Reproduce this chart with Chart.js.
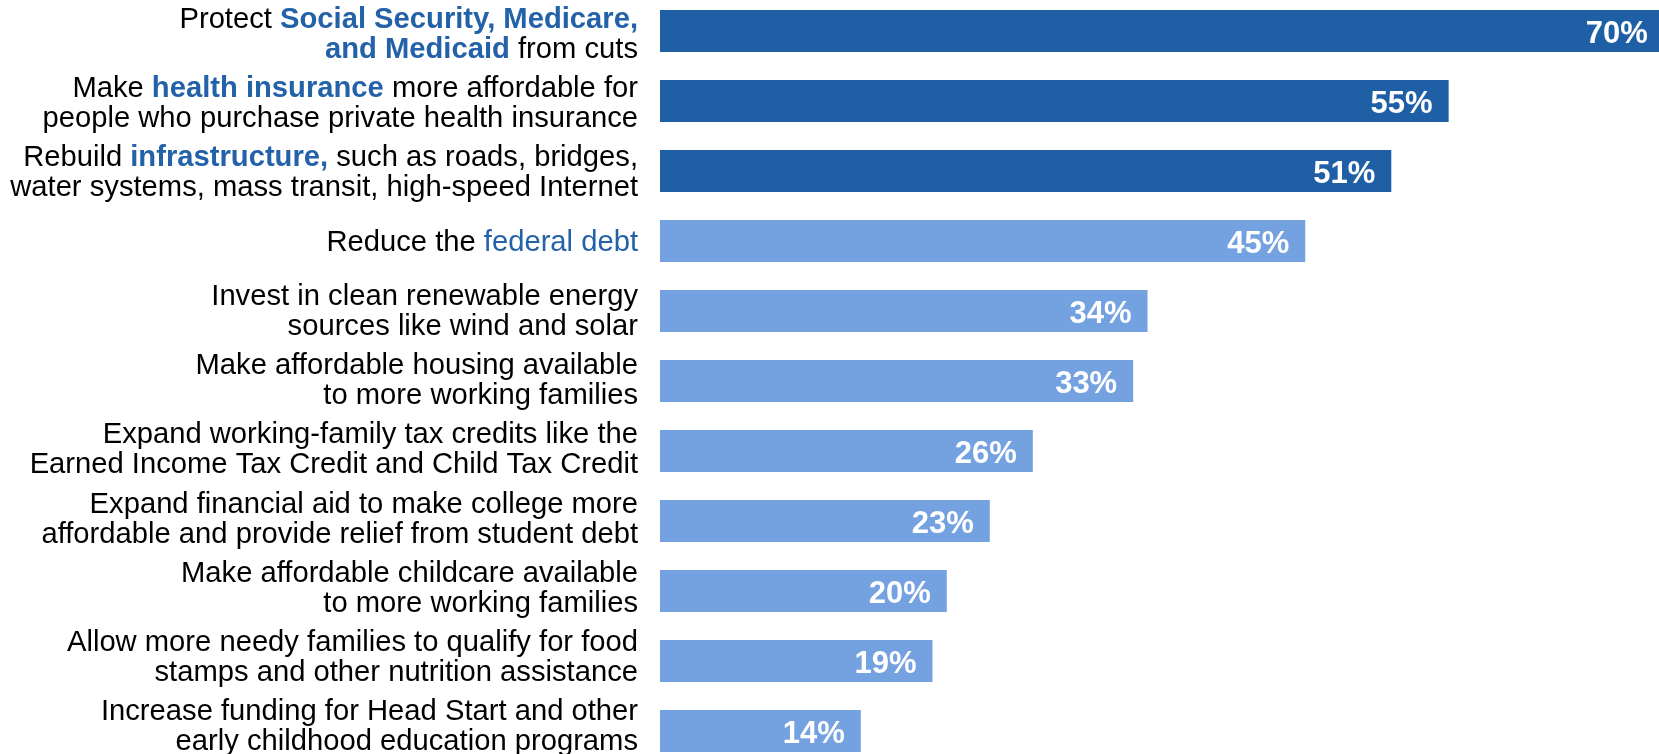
<!DOCTYPE html>
<html>
<head>
<meta charset="utf-8">
<script src="https://cdn.jsdelivr.net/npm/chart.js@4/dist/chart.umd.min.js"></script>
<style>
html,body{margin:0;padding:0;width:1659px;height:754px;overflow:hidden;background:#ffffff}
#wrap{position:absolute;left:0;top:-4.5px;width:1659px;height:770px}
</style>
</head>
<body>
<div id="wrap"><canvas id="c"></canvas></div>
<script>
// [[...]] = bold blue emphasis, {{...}} = regular blue emphasis, | = line break
const categories = [
  "Protect [[Social Security, Medicare,]]|[[and Medicaid]] from cuts",
  "Make [[health insurance]] more affordable for|people who purchase private health insurance",
  "Rebuild [[infrastructure,]] such as roads, bridges,|water systems, mass transit, high-speed Internet",
  "Reduce the {{federal debt}}",
  "Invest in clean renewable energy|sources like wind and solar",
  "Make affordable housing available|to more working families",
  "Expand working-family tax credits like the|Earned Income Tax Credit and Child Tax Credit",
  "Expand financial aid to make college more|affordable and provide relief from student debt",
  "Make affordable childcare available|to more working families",
  "Allow more needy families to qualify for food|stamps and other nutrition assistance",
  "Increase funding for Head Start and other|early childhood education programs"
];
const values = [70, 55, 51, 45, 34, 33, 26, 23, 20, 19, 14];
const valueLabels = values.map(v => v + '%');

const DARK = '#1F5FA6';
const LIGHT = '#74A1E0';
const BLUE_TEXT = '#2361A8';
const FONT = '"Liberation Sans", Arial, sans-serif';
const LABEL_SIZE = 29.2;
const LINE_H = 30;

function parseLine(line) {
  const segs = [];
  const re = /\[\[(.*?)\]\]|\{\{(.*?)\}\}|([^\[\{]+)/g;
  let m;
  while ((m = re.exec(line)) !== null) {
    if (m[1] !== undefined) segs.push({t: m[1], bold: true, blue: true});
    else if (m[2] !== undefined) segs.push({t: m[2], bold: false, blue: true});
    else segs.push({t: m[3], bold: false, blue: false});
  }
  return segs;
}
const plainLabels = categories.map(c => c.replace(/\[\[|\]\]|\{\{|\}\}/g, '').split('|'));

const richLabels = {
  id: 'richLabels',
  afterDraw(chart) {
    const ctx = chart.ctx;
    const yS = chart.scales.y;
    const right = chart.chartArea.left - 22;
    ctx.save();
    ctx.textAlign = 'left';
    ctx.textBaseline = 'alphabetic';
    categories.forEach((cat, i) => {
      const lines = cat.split('|');
      // text block drifts slightly upward relative to bars down the list
      const cy = yS.getPixelForValue(i) + 1.5 - i * 0.75;
      const n = lines.length;
      lines.forEach((ln, j) => {
        const segs = parseLine(ln);
        const capMid = cy + (j - (n - 1) / 2) * LINE_H;
        const base = capMid + 0.716 * LABEL_SIZE / 2;
        let total = 0;
        segs.forEach(s => {
          ctx.font = (s.bold ? 'bold ' : '') + LABEL_SIZE + 'px ' + FONT;
          s.w = ctx.measureText(s.t).width;
          total += s.w;
        });
        let x = right - total;
        segs.forEach(s => {
          ctx.font = (s.bold ? 'bold ' : '') + LABEL_SIZE + 'px ' + FONT;
          ctx.fillStyle = s.blue ? BLUE_TEXT : '#000000';
          ctx.fillText(s.t, x, base);
          x += s.w;
        });
      });
    });
    ctx.restore();
  }
};

const valueLabelPlugin = {
  id: 'valueLabelPlugin',
  afterDatasetsDraw(chart) {
    const ctx = chart.ctx;
    const meta = chart.getDatasetMeta(0);
    ctx.save();
    ctx.font = 'bold 31px ' + FONT;
    ctx.fillStyle = '#ffffff';
    ctx.textAlign = 'right';
    ctx.textBaseline = 'alphabetic';
    meta.data.forEach((bar, i) => {
      ctx.fillText(valueLabels[i], bar.x - 16, bar.y + 11.5);
    });
    ctx.restore();
  }
};

new Chart(document.getElementById('c'), {
  type: 'bar',
  data: {
    labels: plainLabels,
    datasets: [{
      data: values,
      backgroundColor: c => c.dataIndex < 3 ? DARK : LIGHT,
      borderWidth: 0,
      barPercentage: 0.6,
      categoryPercentage: 1.0
    }]
  },
  options: {
    indexAxis: 'y',
    responsive: true,
    maintainAspectRatio: false,
    animation: false,
    layout: {padding: {left: 660, right: 0, top: 0, bottom: 0}},
    scales: {
      x: {min: 0, max: 69.67, display: false},
      y: {display: false}
    },
    plugins: {
      legend: {display: false},
      tooltip: {enabled: false}
    }
  },
  plugins: [richLabels, valueLabelPlugin]
});
</script>
</body>
</html>
